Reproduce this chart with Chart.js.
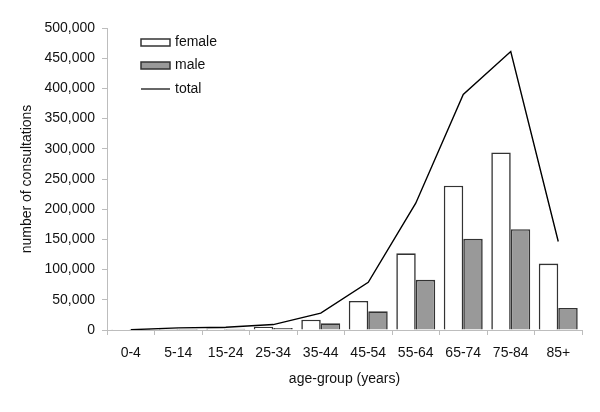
<!DOCTYPE html>
<html>
<head>
<meta charset="utf-8">
<script src="https://cdn.jsdelivr.net/npm/chart.js@4"></script>
<style>
html,body{margin:0;padding:0;background:#fff;}
#wrap{width:600px;height:412px;position:relative;}
</style>
</head>
<body>
<div id="wrap"><canvas id="c" width="600" height="412"></canvas></div>
<script>
const categories = ["0-4","5-14","15-24","25-34","35-44","45-54","55-64","65-74","75-84","85+"];
const female = [300, 2000, 2500, 5500, 17000, 48000, 127000, 239000, 294000, 110000];
const male = [200, 1500, 2000, 3500, 11000, 31000, 83000, 151000, 167000, 36500];
const total = [500, 3500, 4500, 9000, 28000, 79000, 210000, 390000, 461000, 146500];
const yTicks = [0,50000,100000,150000,200000,250000,300000,350000,400000,450000,500000];

const FONT = "'Liberation Sans', Arial, sans-serif";
const AXIS = "#bdbdbd";

const legendPlugin = {
  id: 'innerLegend',
  afterDraw(chart) {
    const ctx = chart.ctx;
    const ds = chart.data.datasets;
    ctx.save();
    ctx.font = "14px " + FONT;
    ctx.textBaseline = 'middle';
    const x0 = 141, w = 29;
    const rows = [42.5, 65.5, 89];
    ds.forEach((d, i) => {
      const y = rows[i];
      if (d.type === 'line') {
        ctx.strokeStyle = d.borderColor;
        ctx.lineWidth = 1.2;
        ctx.beginPath(); ctx.moveTo(x0, y); ctx.lineTo(x0 + w, y); ctx.stroke();
      } else {
        ctx.fillStyle = d.backgroundColor;
        ctx.fillRect(x0, y - 3.5, w, 7);
        ctx.strokeStyle = d.borderColor;
        ctx.lineWidth = 1.5;
        ctx.strokeRect(x0, y - 3.5, w, 7);
      }
      ctx.fillStyle = '#111';
      ctx.fillText(d.label, x0 + w + 5, y);
    });
    ctx.restore();
  }
};

new Chart(document.getElementById('c'), {
  data: {
    labels: categories,
    datasets: [
      { type: 'bar', label: 'female', data: female, backgroundColor: '#ffffff', borderColor: '#333333', borderWidth: 1.6, categoryPercentage: 0.82, barPercentage: 1.0, order: 2 },
      { type: 'bar', label: 'male', data: male, backgroundColor: '#999999', borderColor: '#333333', borderWidth: 1.6, categoryPercentage: 0.82, barPercentage: 1.0, order: 2 },
      { type: 'line', label: 'total', data: total, borderColor: '#000000', borderWidth: 1.4, pointRadius: 0, tension: 0, fill: false, order: 1 }
    ]
  },
  options: {
    responsive: false,
    animation: false,
    devicePixelRatio: 1,
    layout: { padding: { left: 19, right: 18, top: 28, bottom: 24 } },
    plugins: { legend: { display: false }, tooltip: { enabled: false } },
    scales: {
      x: {
        type: 'category',
        offset: true,
        grid: { display: true, drawOnChartArea: false, drawTicks: true, tickLength: 5, color: AXIS, offset: true },
        border: { display: true, color: AXIS, width: 1 },
        ticks: { color: '#111', font: { family: FONT, size: 14 }, padding: 10, maxRotation: 0 },
        title: { display: true, text: 'age-group (years)', color: '#111', font: { family: FONT, size: 14 }, padding: { top: 0, bottom: 0 } },
        afterFit(s) { s.height = 58; }
      },
      y: {
        min: 0, max: 500000,
        afterBuildTicks(s) { s.ticks = yTicks.map(v => ({ value: v })); },
        grid: { display: true, drawOnChartArea: false, drawTicks: true, tickLength: 5, color: AXIS },
        border: { display: true, color: AXIS, width: 1 },
        ticks: { color: '#111', font: { family: FONT, size: 14 }, padding: 7, callback: v => v.toLocaleString('en-US') },
        title: { display: true, text: 'number of consultations', color: '#111', font: { family: FONT, size: 14 }, padding: { top: 0, bottom: 0 } },
        afterFit(s) { s.width = 88; }
      }
    }
  },
  plugins: [legendPlugin]
});
</script>
</body>
</html>
